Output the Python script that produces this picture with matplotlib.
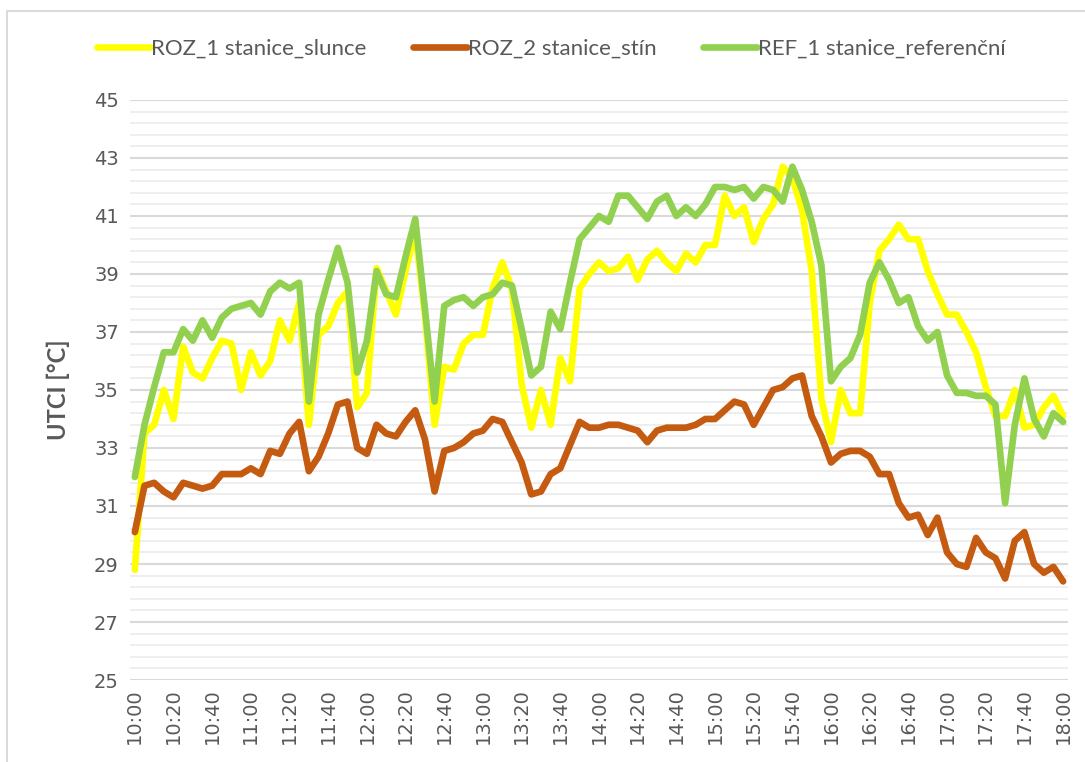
import numpy as np
import matplotlib.pyplot as plt
from matplotlib.patches import Rectangle

# UTCI values every 5 minutes, 10:00 - 18:00
roz1_slunce = [28.8, 33.5, 33.8, 35.0, 34.0, 36.5, 35.6, 35.4, 36.1, 36.7,
               36.6, 35.0, 36.3, 35.5, 36.0, 37.4, 36.7, 38.0, 33.8, 36.9,
               37.2, 38.0, 38.4, 34.4, 34.9, 39.2, 38.4, 37.6, 39.1, 40.5,
               37.6, 33.8, 35.8, 35.7, 36.6, 36.9, 36.9, 38.5, 39.4, 38.5,
               35.2, 33.7, 35.0, 33.8, 36.1, 35.3, 38.5, 39.0, 39.4, 39.1,
               39.2, 39.6, 38.8, 39.5, 39.8, 39.4, 39.1, 39.7, 39.4, 40.0,
               40.0, 41.7, 41.0, 41.3, 40.1, 40.9, 41.4, 42.7, 42.3, 41.2,
               39.1, 34.7, 33.2, 35.0, 34.2, 34.2, 38.0, 39.8, 40.2, 40.7,
               40.2, 40.2, 39.1, 38.3, 37.6, 37.6, 37.0, 36.3, 35.1, 34.1,
               34.1, 35.0, 33.7, 33.8, 34.4, 34.8, 34.1]

roz2_stin = [30.1, 31.7, 31.8, 31.5, 31.3, 31.8, 31.7, 31.6, 31.7, 32.1,
             32.1, 32.1, 32.3, 32.1, 32.9, 32.8, 33.5, 33.9, 32.2, 32.7,
             33.5, 34.5, 34.6, 33.0, 32.8, 33.8, 33.5, 33.4, 33.9, 34.3,
             33.3, 31.5, 32.9, 33.0, 33.2, 33.5, 33.6, 34.0, 33.9, 33.2,
             32.5, 31.4, 31.5, 32.1, 32.3, 33.1, 33.9, 33.7, 33.7, 33.8,
             33.8, 33.7, 33.6, 33.2, 33.6, 33.7, 33.7, 33.7, 33.8, 34.0,
             34.0, 34.3, 34.6, 34.5, 33.8, 34.4, 35.0, 35.1, 35.4, 35.5,
             34.1, 33.4, 32.5, 32.8, 32.9, 32.9, 32.7, 32.1, 32.1, 31.1,
             30.6, 30.7, 30.0, 30.6, 29.4, 29.0, 28.9, 29.9, 29.4, 29.2,
             28.5, 29.8, 30.1, 29.0, 28.7, 28.9, 28.4]

ref1_referencni = [32.0, 33.8, 35.1, 36.3, 36.3, 37.1, 36.7, 37.4, 36.8, 37.5,
                   37.8, 37.9, 38.0, 37.6, 38.4, 38.7, 38.5, 38.7, 34.6, 37.6,
                   38.8, 39.9, 38.7, 35.6, 36.7, 39.1, 38.3, 38.2, 39.6, 40.9,
                   37.8, 34.6, 37.9, 38.1, 38.2, 37.9, 38.2, 38.3, 38.7, 38.6,
                   37.1, 35.5, 35.8, 37.7, 37.1, 38.7, 40.2, 40.6, 41.0, 40.8,
                   41.7, 41.7, 41.3, 40.9, 41.5, 41.7, 41.0, 41.3, 41.0, 41.4,
                   42.0, 42.0, 41.9, 42.0, 41.6, 42.0, 41.9, 41.5, 42.7, 41.9,
                   40.8, 39.3, 35.3, 35.8, 36.1, 36.9, 38.7, 39.4, 38.8, 38.0,
                   38.2, 37.2, 36.7, 37.0, 35.5, 34.9, 34.9, 34.8, 34.8, 34.5,
                   31.1, 33.8, 35.4, 34.0, 33.4, 34.2, 33.9]

tick_labels = ["10:00", "10:20", "10:40", "11:00", "11:20", "11:40", "12:00",
               "12:20", "12:40", "13:00", "13:20", "13:40", "14:00", "14:20",
               "14:40", "15:00", "15:20", "15:40", "16:00", "16:20", "16:40",
               "17:00", "17:20", "17:40", "18:00"]

series_names = ["ROZ_1 stanice_slunce", "ROZ_2 stanice_stín", "REF_1 stanice_referenční"]
colors = ["#FFFF00", "#C55A11", "#92D050"]

fig = plt.figure(figsize=(10.85, 7.62), dpi=100)
ax = fig.add_axes([0.1198, 0.1076, 0.8645, 0.7612])

# chart area border like in Excel
fig.patches.append(Rectangle((0.0065, -0.02), 1.0, 1.0056, transform=fig.transFigure,
                             fill=False, edgecolor="#D9D9D9", linewidth=1.4))

x = np.arange(len(roz1_slunce))
for values, name, color in zip([roz1_slunce, roz2_stin, ref1_referencni], series_names, colors):
    ax.plot(x, values, color=color, linewidth=4.8, label=name,
            solid_joinstyle="round", solid_capstyle="round")

ax.set_xlim(-0.5, len(x) - 0.5)
ax.set_ylim(25, 45)

# gridlines: minor every 0.4, major every 2
for v in np.arange(25, 45.01, 0.4):
    ax.axhline(v, color="#EDEDED", linewidth=1.3, zorder=0)
for v in range(25, 46, 2):
    ax.axhline(v, color="#D9D9D9", linewidth=1.5, zorder=0.5)

ax.set_yticks(range(25, 46, 2))
ax.set_xticks(np.arange(0, len(x), 4))
ax.set_xticklabels(tick_labels, rotation=90)
ax.tick_params(axis="both", length=0, labelsize=14, colors="#595959", pad=8)
ax.tick_params(axis="x", pad=6)
for s in ax.spines.values():
    s.set_visible(False)

ax.set_ylabel("UTCI [°C]", fontsize=17, fontweight="bold", color="#595959",
              family="Lato", labelpad=17)

fig.legend(loc="upper center", bbox_to_anchor=(0.508, 0.975), ncol=3, frameon=False,
           prop={"family": "Lato", "size": 16}, handlelength=2.4, handletextpad=0.05,
           columnspacing=2.1, labelcolor="#595959")

fig.savefig("out.png", dpi=100)
